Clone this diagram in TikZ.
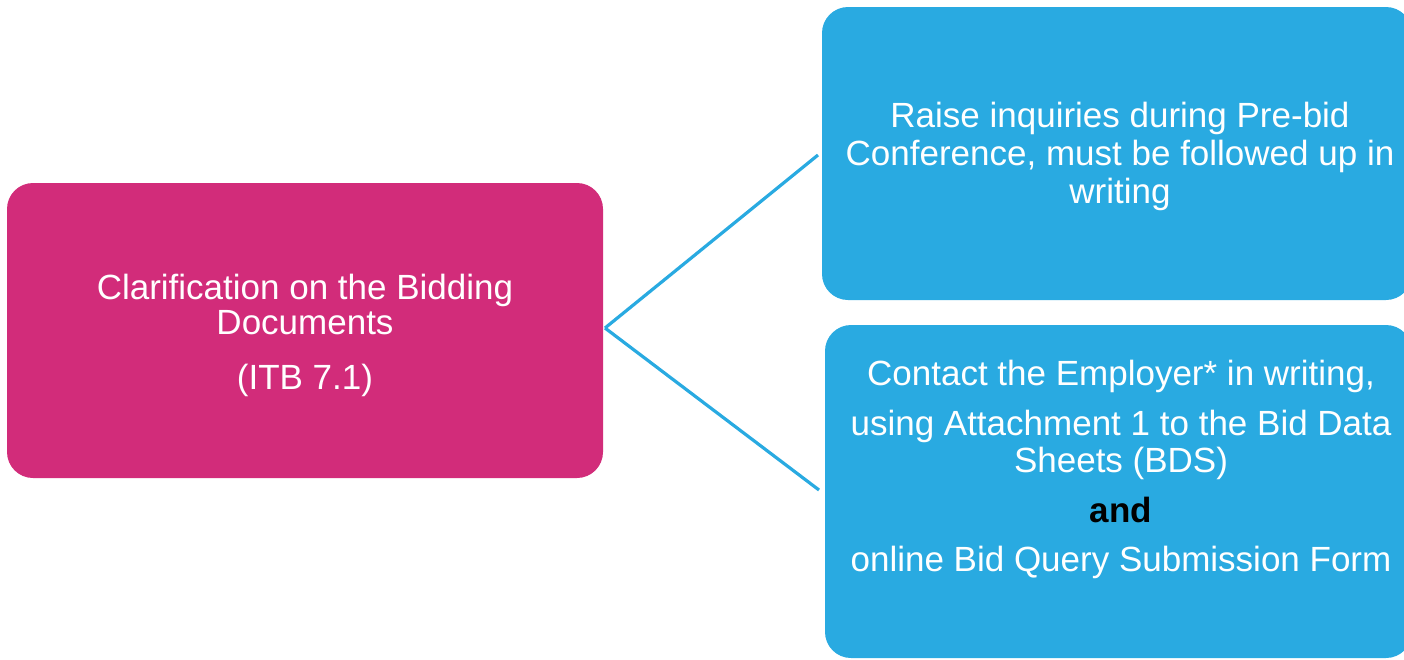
\documentclass[tikz,border=0pt]{standalone}
\usepackage{fontspec}
\setmainfont{Liberation Sans}
\definecolor{magbox}{RGB}{210,44,122}
\definecolor{bluebox}{RGB}{41,170,225}
\begin{document}
\begin{tikzpicture}[x=1pt,y=-1pt,
  boxshape/.style={fill=#1, draw=none, rounded corners=26pt},
  boxtext/.style={text=white, align=center, inner sep=0pt},
  link/.style={draw=bluebox, line width=3.2pt}]
\useasboundingbox (0,0) rectangle (1404,659);
% boxes
\path[boxshape=magbox] (7,183) rectangle (603,478);
\node[inner sep=0pt, minimum width=596pt, minimum height=295pt] (L) at (305,330.5) {};
\path[boxshape=bluebox] (822,7) rectangle (1412,300);
\node[inner sep=0pt, minimum width=590pt, minimum height=293pt] (T) at (1117,153.5) {};
\path[boxshape=bluebox] (825,325) rectangle (1412,658);
\node[inner sep=0pt, minimum width=587pt, minimum height=333pt] (B) at (1118.5,491.5) {};
% texts
\node[boxtext, font=\fontsize{35}{35}\selectfont] (Ltext) at (305,335)
  {Clarification on the Bidding\\Documents\\[20pt](ITB 7.1)};
\node[boxtext, font=\fontsize{35}{38}\selectfont] (Ttext) at (1120,156)
  {Raise inquiries during Pre-bid\\Conference, must be followed up in\\writing};
\node[boxtext, font=\fontsize{35}{37}\selectfont] (Btext) at (1121,469)
  {Contact the Employer* in writing,\\[13pt]
   using Attachment 1 to the Bid Data\\Sheets (BDS)\\[13pt]
   \textcolor{black}{\textbf{and}}\\[12pt]
   online Bid Query Submission Form};
% connectors
\coordinate (j) at (605,328);
\coordinate (tend) at (818,155);
\coordinate (bend) at (819,490);
\draw[link] (j) -- (tend);
\draw[link] (j) -- (bend);
\end{tikzpicture}
\end{document}
